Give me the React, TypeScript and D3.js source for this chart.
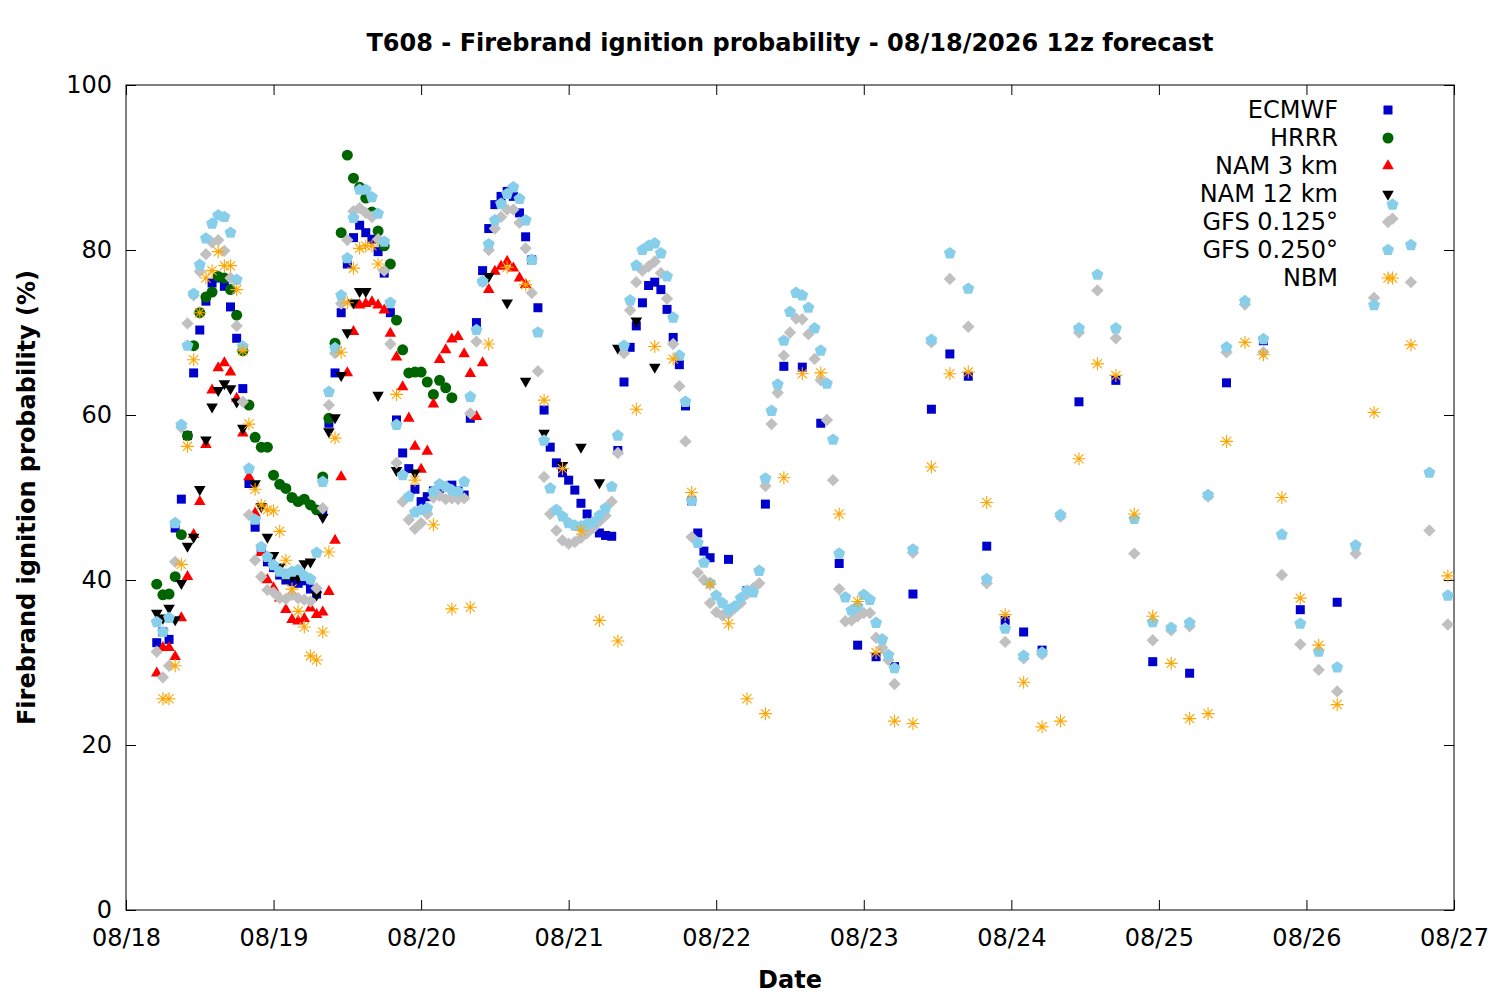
import { useEffect, useRef } from "react"
import * as d3 from "d3"

const title = "T608 - Firebrand ignition probability - 08/18/2026 12z forecast"
const xLabel = "Date"
const yLabel = "Firebrand ignition probability (%)"
const yTicks = [0, 20, 40, 60, 80, 100]
const dayLabels = ["08/18", "08/19", "08/20", "08/21", "08/22", "08/23", "08/24", "08/25", "08/26", "08/27"]

// hours after 08/18 00:00
const span = (from: number, to: number, step: number) => d3.range(from, to + step / 2, step)

const ecmwfHours = [...span(5, 95, 1), ...span(98, 149, 3), ...span(155, 197, 6)]
const ecmwfValues = [
  32.4, 33.7, 32.8, 46.3, 49.8, 57.5, 65.1, 70.3, 73.8, 76.0,
  76.6, 75.6, 73.1, 69.3, 63.2, 51.7, 46.4, 43.5, 42.2, 41.5,
  40.6, 40.0, 39.8, 39.6, 39.9, 38.9, 38.3, 48.3, 59.0, 65.1,
  72.4, 78.3, 81.5, 83.0, 82.1, 81.3, 79.8, 77.2, 72.4, 59.4,
  55.4, 53.5, 51.0, 49.5, 50.1, 50.8, 51.1, 51.3, 51.5, 50.8,
  50.3, 59.6, 71.2, 77.5, 82.6, 85.5, 86.5, 87.1, 86.5, 84.5,
  81.6, 78.8, 73.0, 60.6, 56.1, 54.2, 53.0, 52.1, 50.9, 49.3,
  48.0, 46.5, 45.7, 45.4, 45.3, 55.7, 64.0, 68.2, 70.8, 73.6,
  75.7, 76.1, 75.2, 72.8, 69.4, 66.1, 61.1, 49.6, 45.7, 43.5,
  42.7,
  42.5, 38.7, 49.2, 65.9, 65.8, 59.0, 42.0, 32.1, 30.7, 29.5,
  38.3, 60.7, 67.4, 64.7, 44.1, 35.1, 33.7, 31.5,
  61.6, 64.2, 30.1, 28.7, 63.9, 69.0, 36.4, 37.3,
]

const hrrrHours = span(5, 53, 1)
const hrrrValues = [
  39.5, 38.2, 38.3, 40.4, 45.5, 57.5, 68.4, 72.4, 74.3, 74.9,
  76.8, 76.6, 75.2, 72.1, 67.8, 61.2, 57.3, 56.1, 56.1, 52.7,
  51.6, 51.1, 50.0, 49.5, 49.8, 49.1, 48.5, 52.5, 59.6, 68.7,
  82.1, 91.5, 88.7, 87.6, 86.3, 84.6, 82.3, 80.5, 78.3, 71.5,
  67.9, 65.1, 65.2, 65.2, 64.0, 62.5, 64.2, 63.3, 62.1,
]

const nam3Hours = span(5, 65, 1)
const nam3Values = [
  28.7, 31.8, 31.8, 30.7, 35.4, 40.4, 45.5, 49.5, 56.4, 63.0,
  65.7, 66.3, 65.2, 62.0, 57.8, 52.5, 48.1, 43.3, 40.0, 39.0,
  37.8, 36.4, 35.2, 35.0, 35.3, 36.6, 35.8, 36.1, 38.6, 44.8,
  52.5, 65.1, 70.1, 73.3, 73.5, 73.7, 73.3, 72.7, 69.9, 67.0,
  63.4, 59.6, 56.2, 53.4, 55.6, 61.3, 66.7, 67.9, 69.2, 69.5,
  67.4, 65.0, 59.8, 66.3, 75.2, 77.4, 78.0, 78.6, 77.8, 76.6,
  75.8,
]

const nam12Hours = [
  ...span(5, 19, 1), ...span(21, 39, 1), 41, 44, 47,
  ...span(59, 86, 3),
]
const nam12Values = [
  36.0, 35.4, 36.6, 35.2, 39.6, 44.1, 45.2, 51.0, 57.0, 61.0,
  63.0, 63.8, 63.2, 61.6, 58.4,
  51.7, 48.9, 45.2, 43.0, 41.6, 40.5, 40.4, 40.2, 42.0, 42.2,
  38.2, 47.6, 58.0, 59.7, 64.8, 70.0, 73.6, 75.0, 75.0,
  62.4, 53.3, 53.0,
  76.8, 73.6, 64.1, 57.8, 53.9, 56.1, 51.8, 68.1, 71.4, 65.8,
]

const gfs125Hours = [...span(5, 125, 1), ...span(128, 215, 3)]
const gfs125Values = [
  31.3, 28.2, 29.6, 42.2, 58.5, 71.1, 74.5, 77.4, 79.5, 80.9,
  81.2, 79.9, 76.6, 70.8, 61.6, 47.9, 42.4, 40.4, 38.8, 38.5,
  37.8, 37.7, 38.2, 37.8, 37.6, 37.4, 39.0, 48.7, 61.2, 67.5,
  73.5, 81.2, 84.7, 85.1, 84.5, 84.0, 81.3, 77.5, 68.6, 54.2,
  49.5, 47.3, 46.2, 46.9, 48.0, 50.0, 50.2, 49.8, 49.9, 49.8,
  49.9, 60.2, 68.9, 76.1, 80.0, 82.6, 84.0, 84.9, 84.9, 83.3,
  80.2, 74.8, 65.3, 52.5, 48.0, 46.0, 44.8, 44.4, 44.6, 45.1,
  45.7, 46.3, 47.1, 47.8, 49.5, 55.4, 67.5, 72.7, 76.1, 77.5,
  78.0, 78.6, 77.2, 74.1, 68.6, 63.5, 56.8, 45.2, 40.9, 40.0,
  37.2, 36.1, 35.7, 35.9, 36.6, 37.2, 38.3, 39.0, 39.6, 51.4,
  58.9, 62.7, 67.2, 70.0, 71.7, 71.6, 69.8, 66.8, 64.2, 59.4,
  52.1, 38.9, 35.0, 35.1, 35.6, 36.0, 36.0, 33.0, 31.8, 30.3,
  27.4,
  43.3, 68.8, 76.5, 70.7, 39.6, 32.5, 30.5, 31.0, 47.7, 70.0,
  75.1, 69.3, 43.2, 32.7, 33.9, 34.4, 50.1, 67.6, 73.4, 67.6,
  40.6, 32.2, 29.1, 26.5, 43.2, 74.2, 83.8, 76.1, 46.0, 34.6,
]

const gfs250Hours = [...span(5, 125, 1), ...span(128, 215, 3)]
const gfs250Values = [
  34.9, 33.7, 35.4, 46.9, 58.8, 68.4, 74.7, 78.2, 81.4, 83.2,
  84.2, 84.0, 82.1, 76.4, 68.3, 53.5, 47.3, 44.0, 42.8, 41.8,
  41.0, 40.7, 41.0, 41.2, 40.5, 40.1, 43.3, 51.9, 62.8, 68.1,
  74.5, 79.0, 83.9, 87.3, 87.3, 86.4, 84.4, 81.0, 73.6, 58.8,
  52.7, 50.1, 48.2, 48.5, 48.7, 50.7, 51.6, 51.3, 50.9, 50.7,
  51.9, 62.2, 70.3, 76.2, 80.7, 83.6, 85.6, 86.8, 87.6, 86.2,
  83.6, 78.8, 70.0, 56.9, 51.1, 48.5, 47.7, 46.9, 46.6, 46.5,
  46.8, 47.0, 47.8, 48.7, 51.3, 57.5, 68.4, 73.9, 78.1, 80.0,
  80.5, 80.8, 79.6, 76.8, 71.8, 67.2, 61.6, 49.6, 44.5, 42.1,
  39.6, 38.1, 37.2, 36.4, 36.8, 37.8, 38.7, 38.5, 41.1, 52.3,
  60.5, 63.7, 69.0, 72.5, 74.8, 74.5, 73.0, 70.5, 67.8, 63.8,
  57.0, 43.2, 37.9, 36.3, 36.8, 38.2, 37.6, 34.8, 32.8, 30.9,
  29.3,
  43.7, 69.1, 79.6, 75.3, 40.1, 34.1, 30.8, 31.2, 47.9, 70.5,
  77.0, 70.5, 47.4, 34.9, 34.2, 34.8, 50.3, 68.2, 73.8, 69.2,
  45.5, 34.7, 31.3, 29.4, 44.2, 73.3, 85.5, 80.6, 53.0, 38.1,
]

const nbmHours = [...span(6, 41, 1), ...span(44, 197, 3), 203, 206, 209, 215]
const nbmValues = [
  25.6, 25.6, 29.6, 41.9, 56.2, 66.7, 72.4, 76.6, 77.5, 79.8,
  78.1, 78.1, 75.2, 67.8, 58.9, 51.0, 49.1, 48.5, 48.4, 45.9,
  42.4, 38.9, 36.2, 34.3, 30.8, 30.3, 33.7, 43.4, 57.2, 67.6,
  73.6, 77.8, 80.2, 80.5, 80.5, 78.3,
  62.5, 52.1, 46.7, 36.5, 36.7, 68.6, 77.9, 75.8, 61.8, 53.5,
  46.0, 35.1, 32.6, 60.7, 68.3, 66.8, 50.6, 39.5, 34.7, 25.6,
  23.8, 52.4, 65.0, 65.1, 48.0, 37.4, 31.2, 22.9, 22.6, 53.7,
  65.0, 65.2, 49.4, 35.8, 27.6, 22.2, 22.9, 54.7, 66.2, 64.8,
  48.0, 35.6, 29.9, 23.2, 23.8, 56.8, 68.8, 67.3, 50.0, 37.8,
  32.1, 24.9,
  60.3, 76.6, 68.5, 40.5,
]

type Kind = "square" | "circle" | "up" | "down" | "diamond" | "pentagon" | "star"

const series: { name: string; hours: number[]; values: number[]; color: string; kind: Kind }[] = [
  { name: "ECMWF", hours: ecmwfHours, values: ecmwfValues, color: "#0000cd", kind: "square" },
  { name: "HRRR", hours: hrrrHours, values: hrrrValues, color: "#006400", kind: "circle" },
  { name: "NAM 3 km", hours: nam3Hours, values: nam3Values, color: "#ff0000", kind: "up" },
  { name: "NAM 12 km", hours: nam12Hours, values: nam12Values, color: "#000000", kind: "down" },
  { name: "GFS 0.125°", hours: gfs125Hours, values: gfs125Values, color: "#c0c0c0", kind: "diamond" },
  { name: "GFS 0.250°", hours: gfs250Hours, values: gfs250Values, color: "#87ceeb", kind: "pentagon" },
  { name: "NBM", hours: nbmHours, values: nbmValues, color: "#ffa500", kind: "star" },
]

const markerPath = (kind: Kind): string => {
  const p = d3.path()
  if (kind === "square") return d3.symbol(d3.symbolSquare, 81)() as string
  if (kind === "circle") return d3.symbol(d3.symbolCircle, 95)() as string
  if (kind === "up" || kind === "down") return d3.symbol(d3.symbolTriangle, 58)() as string
  if (kind === "diamond") {
    p.moveTo(0, -6.2)
    p.lineTo(6.2, 0)
    p.lineTo(0, 6.2)
    p.lineTo(-6.2, 0)
    p.closePath()
  } else if (kind === "pentagon") {
    for (let i = 0; i < 5; i++) {
      const a = -Math.PI / 2 + (i * 2 * Math.PI) / 5
      const px = 6.3 * Math.cos(a)
      const py = 6.3 * Math.sin(a)
      if (i === 0) p.moveTo(px, py)
      else p.lineTo(px, py)
    }
    p.closePath()
  } else {
    const r = 6.5
    const d = r * Math.SQRT1_2
    p.moveTo(-r, 0); p.lineTo(r, 0)
    p.moveTo(0, -r); p.lineTo(0, r)
    p.moveTo(-d, -d); p.lineTo(d, d)
    p.moveTo(-d, d); p.lineTo(d, -d)
  }
  return p.toString()
}

export default function App() {
  const svgRef = useRef<SVGSVGElement>(null)

  useEffect(() => {
    if (!svgRef.current) return
    const svg = d3.select(svgRef.current)
    svg.selectAll("*").remove()

    const width = 1500
    const height = 1000
    const margin = { top: 85, right: 46, bottom: 90, left: 126 }
    const innerW = width - margin.left - margin.right
    const innerH = height - margin.top - margin.bottom
    const font = "DejaVu Sans, sans-serif"
    const fontSize = 24

    const start = new Date(2026, 7, 18)
    const toDate = (h: number) => new Date(2026, 7, 18, h)
    const dayDates = dayLabels.map((_, i) => new Date(2026, 7, 18 + i))

    const x = d3.scaleTime().domain([start, dayDates[dayDates.length - 1]]).range([0, innerW])
    const y = d3.scaleLinear().domain([0, 100]).range([innerH, 0])

    svg.attr("width", width).attr("height", height).style("background", "#fff")

    const g = svg.append("g").attr("transform", `translate(${margin.left},${margin.top})`)

    // Axes with inward ticks, mirrored on the opposite sides
    const tick = 10
    const styleAxis = (sel: d3.Selection<SVGGElement, unknown, null, undefined>) => {
      sel.select(".domain").remove()
      sel.selectAll("line").attr("stroke", "#000").attr("stroke-width", 1)
      sel.selectAll("text").attr("fill", "#000").attr("font-size", fontSize).attr("font-family", font)
    }

    g.append("g")
      .call(d3.axisLeft(y).tickValues(yTicks).tickSizeInner(-tick).tickSizeOuter(0).tickPadding(14))
      .call(styleAxis)
    g.append("g")
      .attr("transform", `translate(${innerW},0)`)
      .call(d3.axisRight(y).tickValues(yTicks).tickSizeInner(-tick).tickSizeOuter(0).tickFormat(() => ""))
      .call(styleAxis)
    g.append("g")
      .attr("transform", `translate(0,${innerH})`)
      .call(
        d3.axisBottom(x)
          .tickValues(dayDates)
          .tickSizeInner(-tick)
          .tickSizeOuter(0)
          .tickPadding(19)
          .tickFormat((_, i) => dayLabels[i])
      )
      .call(styleAxis)
    g.append("g")
      .call(d3.axisTop(x).tickValues(dayDates).tickSizeInner(-tick).tickSizeOuter(0).tickFormat(() => ""))
      .call(styleAxis)

    g.append("rect")
      .attr("width", innerW)
      .attr("height", innerH)
      .attr("fill", "none")
      .attr("stroke", "#000")
      .attr("stroke-width", 1)

    // Points, drawn in legend order
    series.forEach((s) => {
      const d = markerPath(s.kind)
      const rot = s.kind === "down" ? " rotate(180)" : ""
      g.append("g")
        .selectAll("path")
        .data(s.hours.map((h, i) => ({ h, v: s.values[i] })))
        .enter()
        .append("path")
        .attr("d", d)
        .attr("transform", (p) => `translate(${x(toDate(p.h))},${y(p.v)})${rot}`)
        .attr("fill", s.kind === "star" ? "none" : s.color)
        .attr("stroke", s.kind === "star" ? s.color : "none")
        .attr("stroke-width", 1.1)
    })

    // Legend
    const legend = g.append("g")
    series.forEach((s, i) => {
      const ly = 25 + i * 28
      legend.append("text")
        .attr("x", 1212)
        .attr("y", ly)
        .attr("text-anchor", "end")
        .attr("dominant-baseline", "central")
        .attr("font-size", fontSize)
        .attr("font-family", font)
        .text(s.name)
      legend.append("path")
        .attr("d", markerPath(s.kind))
        .attr("transform", `translate(1262,${ly})${s.kind === "down" ? " rotate(180)" : ""}`)
        .attr("fill", s.kind === "star" ? "none" : s.color)
        .attr("stroke", s.kind === "star" ? s.color : "none")
        .attr("stroke-width", 1.1)
    })

    // Titles
    svg.append("text")
      .attr("x", margin.left + innerW / 2)
      .attr("y", 43)
      .attr("text-anchor", "middle")
      .attr("dominant-baseline", "central")
      .attr("font-size", fontSize)
      .attr("font-weight", "bold")
      .attr("font-family", font)
      .text(title)

    svg.append("text")
      .attr("x", margin.left + innerW / 2)
      .attr("y", 980)
      .attr("text-anchor", "middle")
      .attr("dominant-baseline", "central")
      .attr("font-size", fontSize)
      .attr("font-weight", "bold")
      .attr("font-family", font)
      .text(xLabel)

    svg.append("text")
      .attr("transform", `translate(27,${margin.top + innerH / 2}) rotate(-90)`)
      .attr("text-anchor", "middle")
      .attr("dominant-baseline", "central")
      .attr("font-size", fontSize)
      .attr("font-weight", "bold")
      .attr("font-family", font)
      .text(yLabel)
  }, [])

  return (
    <div style={{ position: "absolute", left: 0, top: 0 }}>
      <svg ref={svgRef} style={{ display: "block" }} />
    </div>
  )
}
